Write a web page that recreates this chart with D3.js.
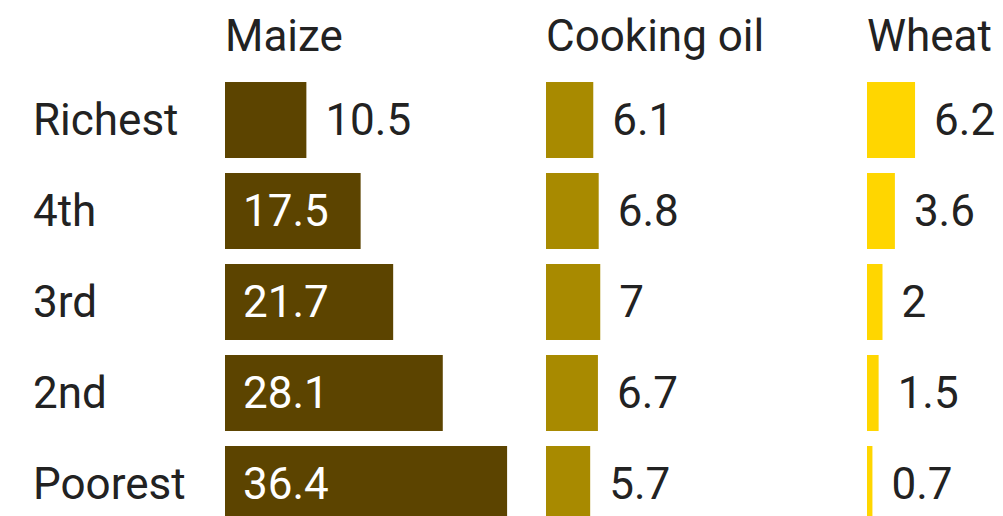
<!DOCTYPE html>
<head>
	<meta charset="utf-8">
	<title>Food spending by quintile</title>
</head>
<style>
body { margin: 0; background: #fff; }
text { font-family: Roboto, "Noto Sans", sans-serif; fill: #222; }
</style>
<svg id="svg" width="1003" height="516"></svg>
<script src="https://cdn.jsdelivr.net/npm/d3@7/dist/d3.min.js"></script>
<script>

var quintiles = ["Richest", "4th", "3rd", "2nd", "Poorest"];
var commodities = ["Maize", "Cooking oil", "Wheat"];
var maize = [10.5, 17.5, 21.7, 28.1, 36.4];
var cookingOil = [6.1, 6.8, 7, 6.7, 5.7];
var wheat = [6.2, 3.6, 2, 1.5, 0.7];

var series = [maize, cookingOil, wheat];

var svg = d3.select("svg"),
    fontSize = 44;

var color = d3.scaleOrdinal()
    .domain(commodities)
    .range(["#5c4400", "#a88a00", "#ffd600"]);

var col = d3.scalePoint()
    .domain(commodities)
    .range([225, 867]);

var y = d3.scaleBand()
    .domain(quintiles)
    .range([67, 537])
    .padding(0.165);

var x = d3.scaleLinear()
    .domain([0, 40])
    .range([0, 310]);

// row labels
svg.append("g")
  .selectAll("text")
  .data(quintiles)
  .enter().append("text")
    .attr("x", 33)
    .attr("y", function(d) { return y(d) + y.bandwidth() / 2; })
    .attr("dy", "0.33em")
    .attr("font-size", fontSize)
    .text(function(d) { return d; });

commodities.forEach(function(c, i) {
  var g = svg.append("g")
      .attr("transform", "translate(" + col(c) + ",0)");

  g.append("text")
      .attr("x", 0)
      .attr("y", 51)
      .attr("font-size", fontSize)
      .text(c);

  var rows = quintiles.map(function(q, j) { return {q: q, v: series[i][j]}; });

  g.selectAll("rect")
    .data(rows)
    .enter().append("rect")
      .attr("x", 0)
      .attr("y", function(d) { return y(d.q); })
      .attr("width", function(d) { return x(d.v); })
      .attr("height", y.bandwidth())
      .attr("fill", color(c));

  g.selectAll("text.val")
    .data(rows)
    .enter().append("text")
      .attr("class", "val")
      .attr("x", function(d) { return x(d.v) > 110 ? 18 : x(d.v) + 19; })
      .attr("y", function(d) { return y(d.q) + y.bandwidth() / 2; })
      .attr("dy", "0.33em")
      .attr("font-size", fontSize)
      .style("fill", function(d) { return x(d.v) > 110 ? "#fff" : "#222"; })
      .text(function(d) { return d.v; });
});

</script>
